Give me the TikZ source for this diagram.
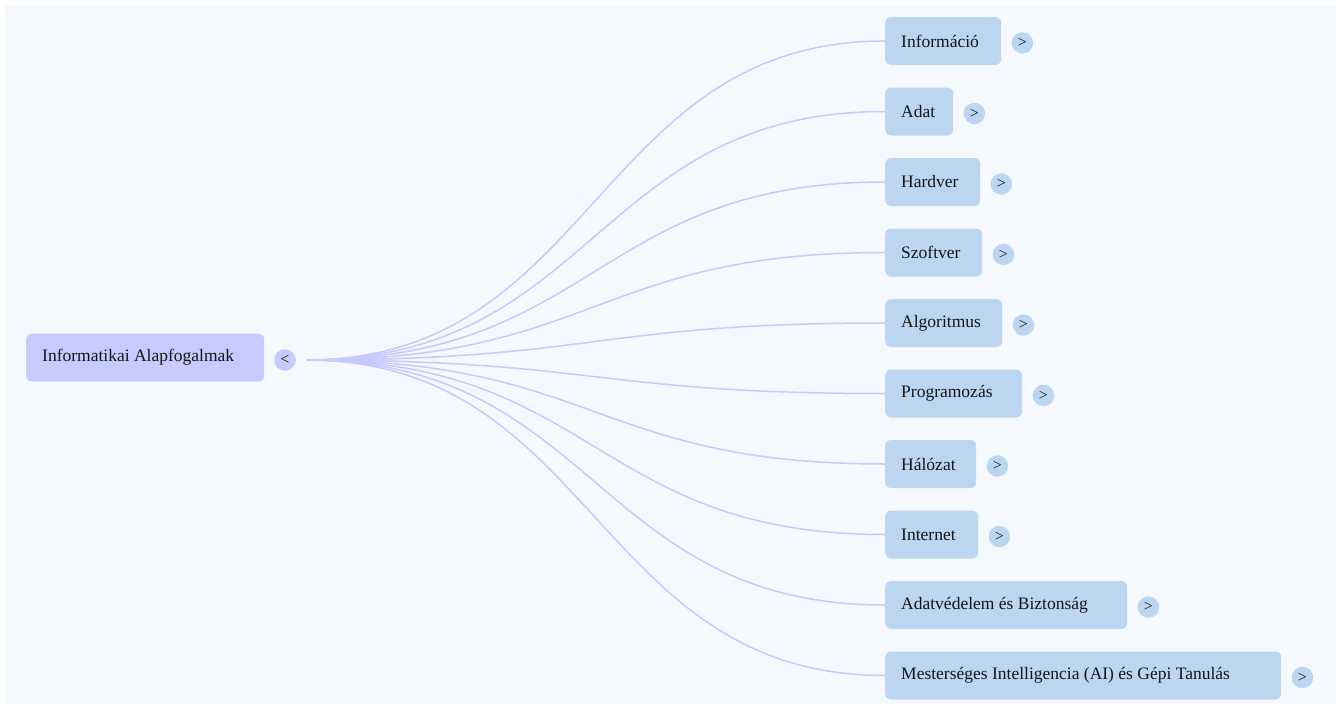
\documentclass[tikz,border=0pt]{standalone}
\usepackage{fontspec}
\setmainfont{Liberation Serif}
\usetikzlibrary{calc}
\definecolor{bgc}{HTML}{F5F9FE}
\definecolor{rootc}{HTML}{C6CBFD}
\definecolor{childc}{HTML}{BCD5F0}
\definecolor{edgec}{HTML}{C5C9FF}
\definecolor{txtc}{HTML}{151515}
\tikzset{
  rootbox/.style={fill=rootc, rounded corners=6pt, anchor=west, minimum height=48pt, inner xsep=16pt, inner ysep=0pt, text=txtc, font=\fontsize{17.5}{20}\selectfont},
  childbox/.style={fill=childc, rounded corners=6pt, anchor=west, minimum height=48pt, inner xsep=16pt, inner ysep=0pt, text=txtc, font=\fontsize{17.5}{20}\selectfont},
  rootbtn/.style={circle, fill=rootc, minimum size=21.5pt, inner sep=0pt, text=txtc, font=\fontsize{16}{16}\selectfont},
  childbtn/.style={circle, fill=childc, minimum size=21.5pt, inner sep=0pt, text=txtc, font=\fontsize{16}{16}\selectfont},
  link/.style={draw=edgec, line width=1.5pt}
}
\begin{document}
\begin{tikzpicture}[x=1pt,y=-1pt]
\useasboundingbox (0,0) rectangle (1336,704);
\fill[bgc] (5,5) rectangle (1336,704);
\node[rootbox] (root) at (26,357.5) {\makebox[206pt][l]{Informatikai Alapfogalmak}};
\node[rootbtn] (rootbtn) at (285,360) {<};
\coordinate (hub) at (306,360);
\foreach \i/\y/\w/\t in {
  1/41/116/Információ,
  2/111.5/68/Adat,
  3/182/95/Hardver,
  4/252.5/97/Szoftver,
  5/323/117/Algoritmus,
  6/393.5/137/Programozás,
  7/464/91/Hálózat,
  8/534.5/93/Internet,
  9/605/242/Adatvédelem és Biztonság,
  10/675.5/396/Mesterséges Intelligencia (AI) és Gépi Tanulás}{
  \pgfmathsetlengthmacro\tw{\w-32}
  \node[childbox] (c\i) at (885,\y) {\makebox[\tw][l]{\t}};
  \node[childbtn] (b\i) at ($(c\i.east)+(21,2)$) {>};
  \draw[link] (hub) .. controls ($(hub)+(289.5,0)$) and ($(c\i.west)+(-289.5,0)$) .. (c\i.west);
}
\end{tikzpicture}
\end{document}
